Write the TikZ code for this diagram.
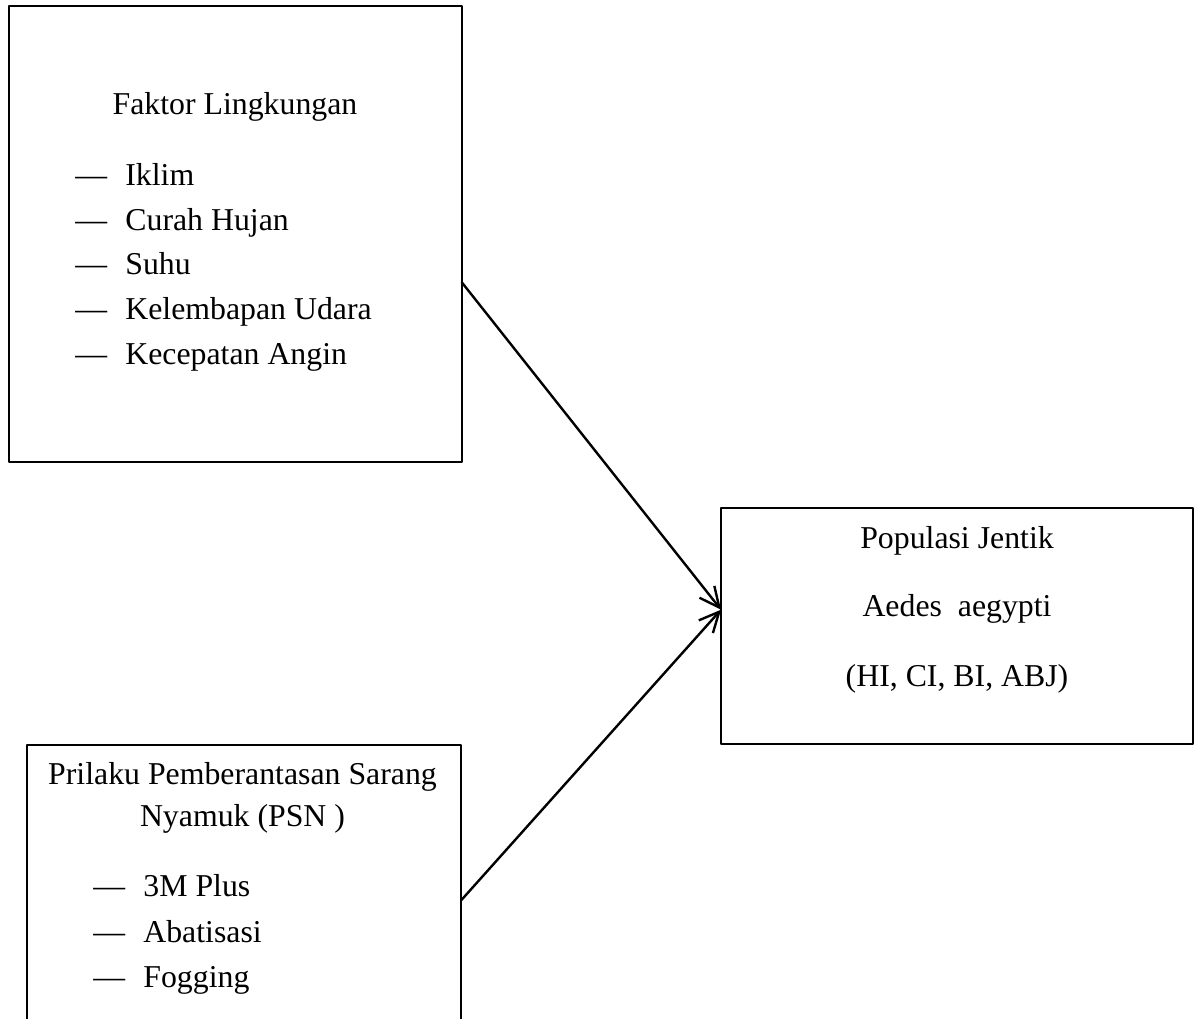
\documentclass[tikz,border=0pt]{standalone}
\usepackage{fontspec}
\setmainfont{Liberation Serif}
\usetikzlibrary{arrows.meta}
\newcommand{\dashitem}[1]{\makebox[25bp][l]{---}#1}
\begin{document}
\begin{tikzpicture}[>={Straight Barb[length=10bp,width=9.5bp]},line join=bevel,font=\fontsize{15.9bp}{19bp}\selectfont,
  box/.style={draw,line width=1bp,outer sep=0pt,inner sep=0pt},
  txt/.style={draw=none,inner sep=0pt,anchor=base},
  itm/.style={draw=none,inner sep=0pt,anchor=base west}]
%%
\useasboundingbox (0bp,0bp) rectangle (597bp,509.5bp);
\node (node_0) at (117.5bp,392.6bp) [box,minimum width=226.5bp,minimum height=228.2bp] {};
  \node (node_1) at (478.4bp,196.4bp) [box,minimum width=235.75bp,minimum height=117.85bp] {};
  \node (node_2) at (122.1bp,63.3bp) [box,minimum width=217.25bp,minimum height=147.65bp] {};
%
\node (node_3) at (117.5bp,452bp) [txt] {Faktor Lingkungan};
  \node (node_4) at (37.5bp,416.5bp) [itm] {\dashitem{Iklim}};
  \node (node_5) at (37.5bp,394.25bp) [itm] {\dashitem{Curah Hujan}};
  \node (node_6) at (37.5bp,372bp) [itm] {\dashitem{Suhu}};
  \node (node_7) at (37.5bp,349.5bp) [itm] {\dashitem{Kelembapan Udara}};
  \node (node_8) at (37.5bp,327bp) [itm] {\dashitem{Kecepatan Angin}};
%
\node (node_9) at (478.5bp,235.35bp) [txt] {Populasi Jentik};
  \node (node_10) at (478.5bp,201.15bp) [txt] {Aedes\ \ aegypti};
  \node (node_11) at (478.5bp,166.15bp) [txt] {(HI, CI, BI, ABJ)};
%
\node (node_12) at (121.25bp,117bp) [txt] {Prilaku Pemberantasan Sarang};
  \node (node_13) at (121.25bp,96bp) [txt] {Nyamuk (PSN )};
  \node (node_14) at (46.5bp,61bp) [itm] {\dashitem{3M Plus}};
  \node (node_15) at (46.5bp,38.5bp) [itm] {\dashitem{Abatisasi}};
  \node (node_16) at (46.5bp,16bp) [itm] {\dashitem{Fogging}};
%
  \draw [black,line width=1.2bp,->] (node_0.-12.9) -- (node_1.176.07);
  \draw [black,line width=1.2bp,->] (node_2.-2.8) -- (node_1.176.07);
%
\end{tikzpicture}
\end{document}
